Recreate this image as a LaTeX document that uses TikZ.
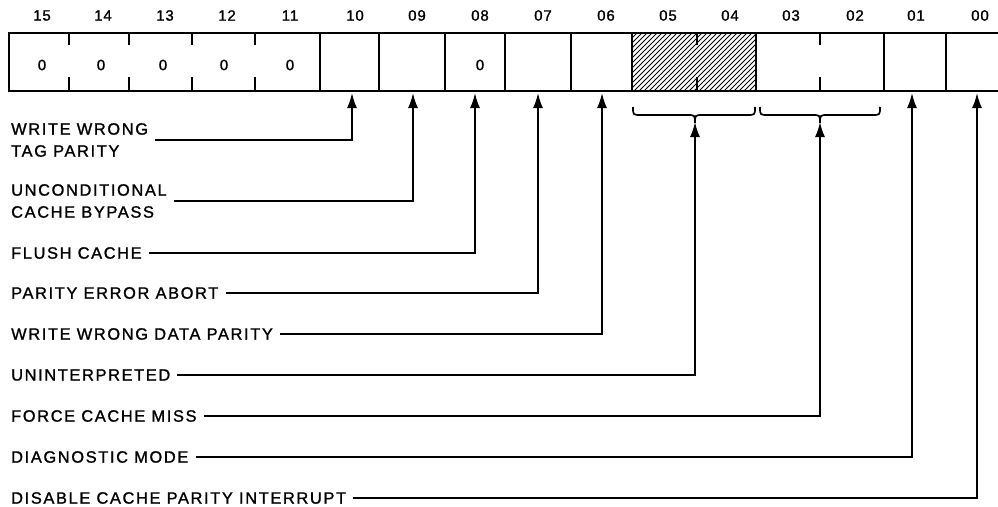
\documentclass[tikz,border=0pt]{standalone}
\usepackage{fontspec}
\setmainfont{Liberation Sans}
\newfontfamily\lblfont[LetterSpace=10,FakeBold=1.3]{Liberation Sans}
\newfontfamily\numfont[LetterSpace=6,FakeBold=1.3]{Liberation Sans}
\usetikzlibrary{arrows.meta}
\begin{document}
\begin{tikzpicture}[x=1pt,y=-1pt,
  reg/.style={line width=2.2pt},
  tick/.style={line width=2.2pt},
  hatch/.style={line width=1pt},
  conn/.style={line width=1.7pt,-{Latex[length=15pt,width=10pt]},shorten <=7pt},
  bracestyle/.style={line width=1.7pt},
  lbl/.style={anchor=west,inner sep=0pt,align=left,font=\lblfont\fontsize{16.4}{22}\selectfont},
  bitno/.style={inner sep=0pt,font=\numfont\fontsize{15}{16}\selectfont},
  zero/.style={inner sep=0pt,font=\numfont\fontsize{15}{16}\selectfont}]
\useasboundingbox (0,0) rectangle (998,506);
\clip (0,0) rectangle (998,506);
% hatched field (bits 05-04)
\begin{scope}
  \clip (632,32) rectangle (756,90);
  \foreach \i in {0,...,40} \draw[hatch] (560+\i*5,95) -- ++(68,-68);
\end{scope}
% register box
\node[draw,reg,inner sep=0pt,minimum width=1002pt,minimum height=58pt,anchor=north west] (reg) at (8,32) {};
\foreach \x in {320,379,445,505,571,632,756,884,946}
  \draw[reg] (\x,32) -- (\x,90);
\foreach \x in {69,129,192,255,697,820}{
  \draw[tick] (\x,32) -- (\x,45);
  \draw[tick] (\x,77) -- (\x,90);
}
% bit numbers
\foreach \lab/\x in {15/42,14/103,13/165,12/227,11/290,10/355,09/417,08/480,07/543,06/606,05/668,04/730,03/791,02/855,01/916,00/980}
  \node[bitno] (n\lab) at (\x,15.5) {\lab};
% zeros
\foreach \lab/\x in {15/42,14/101,13/163,12/224,11/290,08/480}
  \node[zero] (z\lab) at (\x,65) {0};
% braces
\draw[bracestyle] (633,107) .. controls (633,115) .. (641,115) -- (687,115)
  .. controls (695,115) .. (695,123) .. controls (695,115) .. (703,115) -- (747,115)
  .. controls (755,115) .. (755,107);
\draw[bracestyle] (760,107) .. controls (760,115) .. (768,115) -- (812,115)
  .. controls (820,115) .. (820,123) .. controls (820,115) .. (828,115) -- (872,115)
  .. controls (880,115) .. (880,107);
% targets
\coordinate (t10) at (352,93);
\coordinate (t09) at (413,93);
\coordinate (t08) at (475,93);
\coordinate (t07) at (538,93);
\coordinate (t06) at (602,93);
\coordinate (t05) at (695,122);
\coordinate (t03) at (820,122);
\coordinate (t01) at (912,93);
\coordinate (t00) at (977,93);
% labels
\node[lbl] (l10) at (11,140) {WRITE WRONG\\TAG PARITY};
\node[lbl] (l09) at (11,201) {UNCONDITIONAL\\CACHE BYPASS};
\node[lbl] (l08) at (11,253) {FLUSH CACHE};
\node[lbl] (l07) at (11,293) {PARITY ERROR ABORT};
\node[lbl] (l06) at (11,334) {WRITE WRONG DATA PARITY};
\node[lbl] (l05) at (11,375) {UNINTERPRETED};
\node[lbl] (l03) at (11,416) {FORCE CACHE MISS};
\node[lbl] (l01) at (11,457) {DIAGNOSTIC MODE};
\node[lbl] (l00) at (11,498) {DISABLE CACHE PARITY INTERRUPT};
% connectors
\foreach \k in {10,09,08,07,06,05,03,01,00}
  \draw[conn] (l\k.east) -| (t\k);
\end{tikzpicture}
\end{document}
